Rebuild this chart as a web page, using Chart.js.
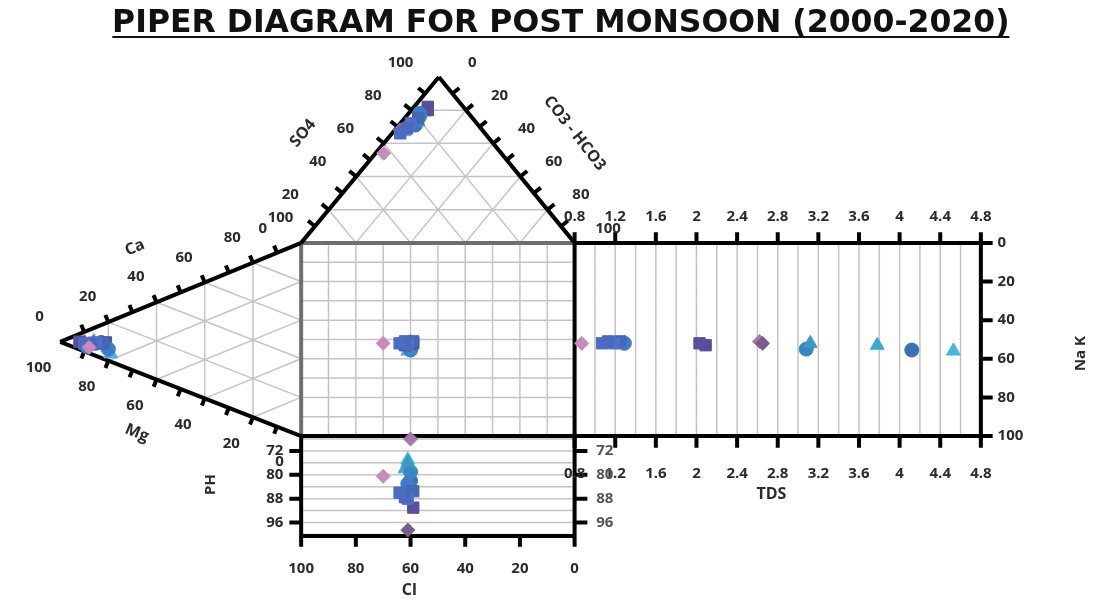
<!DOCTYPE html>
<html>
<head>
<meta charset="utf-8">
<script src="https://cdn.jsdelivr.net/npm/chart.js@4.4.0/dist/chart.umd.min.js"></script>
<style>
  html, body { margin: 0; padding: 0; background: #fff; }
  canvas { display: block; }
</style>
</head>
<body>
<canvas id="piper" width="1102" height="610"></canvas>
<script>
const W = 1102, H = 610;

// one entry per sample (same index in every array)
const markerColors = ["#c98bbf", "#4b6cc1", "#4a69bd", "#4e70c6", "#4567b6", "#3f7cc6", "#5a4d9e", "#5b4c9a",
  "#7a5c8e", "#a27aa9", "#3c9ac2", "#3a87c0", "#3fa8cf", "#3b70b5", "#49b5da"];
const markerShapes = ["rectRot", "rect", "rect", "rect", "rect", "circle", "rect", "rect",
  "rectRot", "rectRot", "triangle", "circle", "triangle", "circle", "triangle"];
const tds = [0.87, 1.07, 1.13, 1.19, 1.25, 1.29, 2.03, 2.09, 2.65, 2.62, 3.12, 3.08, 3.78, 4.12, 4.53];
const naK = [52, 52, 51, 52, 51, 52, 52, 53, 52, 51, 52, 55, 53, 55.5, 56];
const cl = [70, 64, 62, 61, 59, 61, 59, 62, 61, 60, 61, 60, 62, 60, 61];
const ph = [80.5, 86, 87, 88, 85.5, 83, 91, 87.5, 98.5, 68, 76, 79, 78, 82, 75];
const so4 = [54, 66, 69, 72, 75, 78, 80, 82, 70, 68, 73, 76, 79, 71, 67];
const hco3 = [3, 3, 4, 4, 5, 4, 6, 5, 3, 2, 6, 5, 5, 6, 4];
const ca = [3, 4, 5, 7, 8, 6, 4, 9, 5, 5, 6, 3, 7, 8, 4];
const mg = [88, 90, 87, 85, 82, 80, 92, 81, 88, 90, 84, 89, 86, 83, 79];

// axis ticks
const pctTicks = [0, 20, 40, 60, 80, 100];
const tdsTicks = [0.8, 1.2, 1.6, 2, 2.4, 2.8, 3.2, 3.6, 4, 4.4, 4.8];
const phTicks = [72, 80, 88, 96];
const tdsMin = 0.8, tdsMax = 4.8;
const phMin = 67, phMax = 100.5;

// panel layout on the canvas
const ANION = { apex: { x: 437, y: 70 }, left: { x: 297, y: 241 }, right: { x: 575, y: 241 } };
const CATION = { tip: { x: 52, y: 343 }, top: { x: 297, y: 241 }, bottom: { x: 297, y: 440 } };
const SQ = { l: 297, r: 575, t: 241, b: 440 };
const TD = { l: 575, r: 988, t: 241, b: 440 };
const PH = { l: 297, r: 575, t: 440, b: 543 };

function mix(pts, ws) {
  let x = 0, y = 0;
  pts.forEach((p, i) => { x += p.x * ws[i] / 100; y += p.y * ws[i] / 100; });
  return { x, y };
}
const anionPt = (s, h) => mix([ANION.apex, ANION.right, ANION.left], [s, h, 100 - s - h]);
const cationPt = (c, m) => mix([CATION.top, CATION.tip, CATION.bottom], [c, m, 100 - c - m]);
const clX = (c) => SQ.r - c / 100 * (SQ.r - SQ.l);
const nakY = (n) => SQ.t + n / 100 * (SQ.b - SQ.t);
const tdsX = (t) => TD.l + (t - tdsMin) / (tdsMax - tdsMin) * (TD.r - TD.l);
const phY = (p) => PH.t + (p - phMin) / (phMax - phMin) * (PH.b - PH.t);

// turn [[a,b],...] segments into one dataset path with gaps
function segs(list) {
  const out = [];
  list.forEach(([a, b]) => {
    out.push({ x: a.x, y: a.y }, { x: b.x, y: b.y }, { x: b.x, y: null });
  });
  return out;
}
function norm(a, b, sign) {
  const dx = b.x - a.x, dy = b.y - a.y, len = Math.hypot(dx, dy);
  return { x: sign * dy / len, y: -sign * dx / len };
}
function tickAlong(a, b, n, len) {
  const out = [];
  for (let v = 10; v < 100; v += 10) {
    const p = { x: a.x + (b.x - a.x) * v / 100, y: a.y + (b.y - a.y) * v / 100 };
    out.push([p, { x: p.x + n.x * len, y: p.y + n.y * len }]);
  }
  return out;
}

// light grid
const grid = [];
for (let v = 20; v < 100; v += 20) {
  grid.push([anionPt(v, 0), anionPt(v, 100 - v)]);
  grid.push([anionPt(0, v), anionPt(100 - v, v)]);
  grid.push([anionPt(100 - v, 0), anionPt(0, 100 - v)]);
  grid.push([cationPt(v, 0), cationPt(v, 100 - v)]);
  grid.push([cationPt(0, v), cationPt(100 - v, v)]);
  grid.push([cationPt(100 - v, 0), cationPt(0, 100 - v)]);
}
for (let v = 10; v < 100; v += 10) {
  grid.push([{ x: clX(v), y: SQ.t }, { x: clX(v), y: SQ.b }]);
  grid.push([{ x: SQ.l, y: nakY(v) }, { x: SQ.r, y: nakY(v) }]);
}
for (let t = tdsMin + 0.2; t < tdsMax - 0.01; t += 0.2) {
  grid.push([{ x: tdsX(t), y: TD.t }, { x: tdsX(t), y: TD.b }]);
}
for (let p = 68; p <= 100; p += 4) {
  grid.push([{ x: PH.l, y: phY(p) }, { x: PH.r, y: phY(p) }]);
}

// heavy frame lines
const frame = [
  [ANION.left, ANION.apex], [ANION.apex, ANION.right],
  [CATION.tip, CATION.top], [CATION.tip, CATION.bottom],
  [{ x: TD.l, y: TD.t }, { x: TD.r + 10, y: TD.t }],
  [{ x: TD.r, y: TD.t - 4 }, { x: TD.r, y: TD.b + 4 }],
  [{ x: SQ.l, y: SQ.b }, { x: TD.r + 10, y: SQ.b }],
  [{ x: SQ.r, y: SQ.t }, { x: SQ.r, y: PH.b }],
  [{ x: PH.l, y: PH.t }, { x: PH.l, y: PH.b + 2 }],
  [{ x: PH.l, y: PH.b }, { x: PH.r, y: PH.b }]
];
const sqEdge = [
  [{ x: SQ.l, y: SQ.t }, { x: SQ.r, y: SQ.t }],
  [{ x: SQ.l, y: SQ.t }, { x: SQ.l, y: SQ.b }]
];

// tick marks, pointing out of each triangle
const ticks = [
  ...tickAlong(ANION.left, ANION.apex, norm(ANION.left, ANION.apex, 1), 9),
  ...tickAlong(ANION.apex, ANION.right, norm(ANION.apex, ANION.right, 1), 9),
  ...tickAlong(CATION.tip, CATION.top, norm(CATION.tip, CATION.top, 1), 8),
  ...tickAlong(CATION.tip, CATION.bottom, norm(CATION.tip, CATION.bottom, -1), 8)
];
tdsTicks.forEach((t) => {
  ticks.push([{ x: tdsX(t), y: TD.t }, { x: tdsX(t), y: TD.t - 11 }]);
  ticks.push([{ x: tdsX(t), y: TD.b }, { x: tdsX(t), y: TD.b + 12 }]);
});
pctTicks.forEach((v) => {
  ticks.push([{ x: TD.r, y: nakY(v) }, { x: TD.r + 12, y: nakY(v) }]);
  ticks.push([{ x: clX(v), y: PH.b }, { x: clX(v), y: PH.b + 11 }]);
});
phTicks.forEach((p) => {
  ticks.push([{ x: PH.l, y: phY(p) }, { x: PH.l - 12, y: phY(p) }]);
  ticks.push([{ x: PH.r, y: phY(p) }, { x: PH.r + 13, y: phY(p) }]);
});

// each sample shows up once in every panel
const sampleSets = tds.map((_, i) => ({
  data: [
    anionPt(so4[i], hco3[i]),
    cationPt(ca[i], mg[i]),
    { x: clX(cl[i]), y: nakY(naK[i]) },
    { x: tdsX(tds[i]), y: nakY(naK[i]) },
    { x: clX(cl[i]), y: phY(ph[i]) }
  ],
  pointStyle: markerShapes[i],
  pointRadius: markerShapes[i] === "rect" ? 8 : markerShapes[i] === "triangle" ? 8 : 7,
  backgroundColor: markerColors[i],
  borderColor: markerColors[i],
  borderWidth: 1,
  showLine: false,
  order: 0
}));

const lineSet = (data, color, width, order) => ({
  data, showLine: true, pointRadius: 0, borderColor: color, borderWidth: width,
  spanGaps: false, fill: false, order, borderCapStyle: "butt", borderJoinStyle: "miter"
});

// text, placed in canvas units
const texts = [];
const addText = (str, x, y, o = {}) => texts.push({ str, x, y, ...o });
const LBL = "bold 15px 'Open Sans'";
const AX = "bold 16px 'Open Sans'";

pctTicks.forEach((v) => {
  const s = anionPt(v, 0);
  addText(String(v), s.x - 39, s.y - 15, { font: LBL });
  const h = anionPt(100 - v, v);
  addText(String(v), h.x + 34, h.y - 15, { font: LBL });
  const c = cationPt(v, 100 - v);
  addText(String(v), c.x - 21, c.y - 26, { font: LBL });
  const m = cationPt(0, v);
  addText(String(v), m.x - 22, m.y + 27, { font: LBL });
  addText(String(v), TD.r + 17, nakY(v), { font: LBL, align: "left" });
  addText(String(v), clX(v), 577, { font: LBL });
});
tdsTicks.forEach((t) => {
  addText(String(t), tdsX(t), 214, { font: LBL });
  addText(String(t), tdsX(t), 479, { font: LBL });
});
phTicks.forEach((p) => {
  addText(String(p), PH.l - 18, phY(p), { font: LBL, align: "right" });
  addText(String(p), PH.r + 22, phY(p), { font: LBL, align: "left", color: "#555" });
});
addText("SO4", 299, 128, { font: AX, rot: -50 });
addText("CO3 - HCO3", 575, 128, { font: AX, rot: 52 });
addText("Ca", 128, 246, { font: AX, rot: -22 });
addText("Mg", 130, 437, { font: AX, rot: 22 });
addText("PH", 205, 490, { font: "bold 15px 'Open Sans'", rot: -90 });
addText("Na K", 1090, 355, { font: "bold 15px 'Open Sans'", rot: -90 });
addText("TDS", 775, 500, { font: AX });
addText("Cl", 407, 599, { font: AX });

const textPlugin = {
  id: "diagramText",
  afterDatasetsDraw(chart) {
    const { ctx, scales } = chart;
    ctx.save();
    ctx.textBaseline = "middle";
    texts.forEach((t) => {
      const x = scales.x.getPixelForValue(t.x), y = scales.y.getPixelForValue(t.y);
      ctx.save();
      ctx.translate(x, y);
      if (t.rot) ctx.rotate(t.rot * Math.PI / 180);
      ctx.font = t.font;
      ctx.fillStyle = t.color || "#2b2b2b";
      ctx.textAlign = t.align || "center";
      ctx.fillText(t.str, 0, 0);
      ctx.restore();
    });

    // underlined title, sized to its span
    const title = "PIPER DIAGRAM FOR POST MONSOON (2000-2020)";
    const span = 897, cx = scales.x.getPixelForValue(561);
    ctx.font = "bold 24px 'DejaVu Sans'";
    const size = 24 * span / ctx.measureText(title).width;
    ctx.font = `bold ${size.toFixed(1)}px 'DejaVu Sans'`;
    ctx.fillStyle = "#111";
    ctx.textAlign = "center";
    ctx.textBaseline = "alphabetic";
    ctx.fillText(title, cx, 32);
    ctx.fillRect(cx - span / 2, 36, span, 2);
    ctx.restore();
  }
};

new Chart(document.getElementById("piper"), {
  type: "scatter",
  data: {
    datasets: [
      ...sampleSets,
      lineSet(segs(ticks), "#000", 4, 1),
      lineSet(segs(frame), "#000", 4, 2),
      lineSet(segs(sqEdge), "#6e6e6e", 4, 3),
      lineSet(segs(grid), "#c4c4c4", 1.5, 4)
    ]
  },
  options: {
    responsive: false,
    animation: false,
    events: [],
    layout: { padding: 0 },
    plugins: { legend: { display: false }, tooltip: { enabled: false } },
    scales: {
      x: { type: "linear", min: 0, max: W, display: false },
      y: { type: "linear", min: 0, max: H, reverse: true, display: false }
    }
  },
  plugins: [textPlugin]
});
</script>
</body>
</html>
